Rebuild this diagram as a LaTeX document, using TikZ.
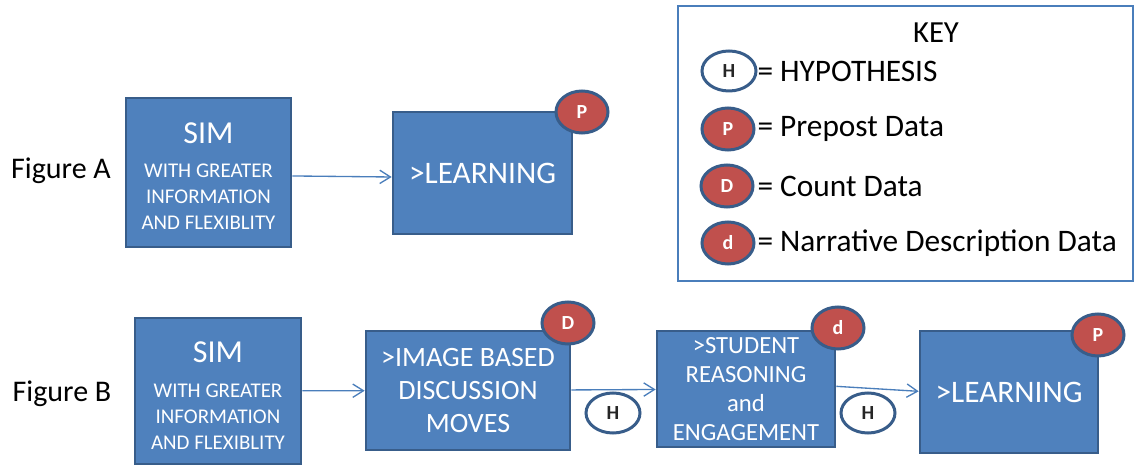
\documentclass[tikz,border=0pt]{standalone}
\usepackage{fontspec}
\setmainfont{Carlito}
\usetikzlibrary{shapes.geometric,arrows.meta}

\definecolor{boxfill}{HTML}{4F81BD}
\definecolor{boxline}{HTML}{385D8A}
\definecolor{datafill}{HTML}{C0504D}
\definecolor{arrowline}{HTML}{4A7EBB}

\tikzset{every picture/.style={line width=0.75pt}}
\tikzset{
  stagebox/.style={draw=boxline, fill=boxfill, line width=2pt, text=white, align=center, inner sep=0pt},
  stagetext/.style={text=white, align=center, inner sep=0pt, anchor=north, font=\fontsize{15.7}{19.5}\selectfont},
  datamark/.style={ellipse, draw=boxline, fill=datafill, line width=2.25pt, text=white, inner sep=0pt,
    minimum width=39pt, minimum height=31.5pt, font=\fontsize{15}{15}\selectfont\bfseries},
  hypmark/.style={ellipse, draw=boxline, fill=white, line width=2.25pt, text=black!85, inner sep=0pt,
    minimum width=40.5pt, minimum height=30pt, font=\fontsize{15}{15}\selectfont\bfseries},
  keytext/.style={anchor=west, inner sep=0pt, font=\fontsize{23.5}{28}\selectfont},
  figlabel/.style={inner sep=0pt, font=\fontsize{22.5}{27}\selectfont},
  flowarrow/.style={draw=arrowline, line width=1pt, -{Straight Barb[length=8pt,width=10pt]}},
}

\begin{document}
\begin{tikzpicture}[x=0.75pt,y=0.75pt,yscale=-1,xscale=1]
\useasboundingbox (0,0) rectangle (1136,466);

% key
\draw (905.5,143.5) node [draw=arrowline, line width=1.3pt, minimum width=341.25pt, minimum height=206.25pt, inner sep=0pt] (keyframe) {};
\draw (936,33) node [inner sep=0pt, font=\fontsize{23}{27}\selectfont] (keytitle) {KEY};
\draw (729,71) node [hypmark] (keyH) {H};
\draw (728,129) node [datamark] (keyP) {P};
\draw (727,186) node [datamark] (keyD) {D};
\draw (728,243) node [datamark] (keyd) {d};
\draw (757,71) node [keytext] (keyHtxt) {= HYPOTHESIS};
\draw (757,129) node [keytext] (keyPtxt) {= Prepost Data};
\draw (757,186) node [keytext] (keyDtxt) {= Count Data};
\draw (757,243) node [keytext] (keydtxt) {= Narrative Description Data};

% figure A
\draw (61,171) node [figlabel] (figA) {Figure A};
\draw (208.5,172.5) node [stagebox, minimum width=123.75pt, minimum height=111.75pt] (simA) {};
\draw (208.5,122) node [stagetext] (simAtxt) {{\fontsize{24}{24}\selectfont SIM}\\[6pt] WITH GREATER\\ INFORMATION\\ AND FLEXIBLITY};
\draw (482.5,173) node [stagebox, minimum width=134.25pt, minimum height=91.5pt, font=\fontsize{23.5}{28}\selectfont] (learnA) {>LEARNING};
\draw (582,112) node [datamark] (pA) {P};
\draw [flowarrow] ([yshift=2.6pt]simA.east) -- ([yshift=3pt]learnA.west);

% figure B
\draw (62,394) node [figlabel] (figB) {Figure B};
\draw (218,391) node [stagebox, minimum width=124.5pt, minimum height=109.5pt] (simB) {};
\draw (218,341) node [stagetext] (simBtxt) {{\fontsize{24}{24}\selectfont SIM}\\[7pt] WITH GREATER\\ INFORMATION\\ AND FLEXIBLITY};
\draw (468,390.5) node [stagebox, minimum width=153pt, minimum height=89.25pt, font=\fontsize{21}{24.75}\selectfont] (imageB) {>IMAGE BASED\\ DISCUSSION\\ MOVES};
\draw (746,389) node [stagebox, minimum width=133.5pt, minimum height=87pt, font=\fontsize{18.5}{21.75}\selectfont] (studentB) {>STUDENT\\ REASONING\\ and\\ ENGAGEMENT};
\draw (1009,392) node [stagebox, minimum width=133.5pt, minimum height=91.5pt, font=\fontsize{23.5}{28}\selectfont] (learnB) {>LEARNING};
\draw (568,323) node [datamark] (countB) {D};
\draw (838,328) node [datamark] (narrB) {d};
\draw (1098,335) node [datamark] (pB) {P};
\draw [flowarrow] (simB) -- (imageB);
\draw [flowarrow] (imageB) -- (studentB);
\draw [flowarrow] ([yshift=-2pt]studentB.east) -- ([yshift=-0.5pt]learnB.west);
\draw (613,413) node [hypmark] (hypB1) {H};
\draw (868,413) node [hypmark] (hypB2) {H};

\end{tikzpicture}
\end{document}
